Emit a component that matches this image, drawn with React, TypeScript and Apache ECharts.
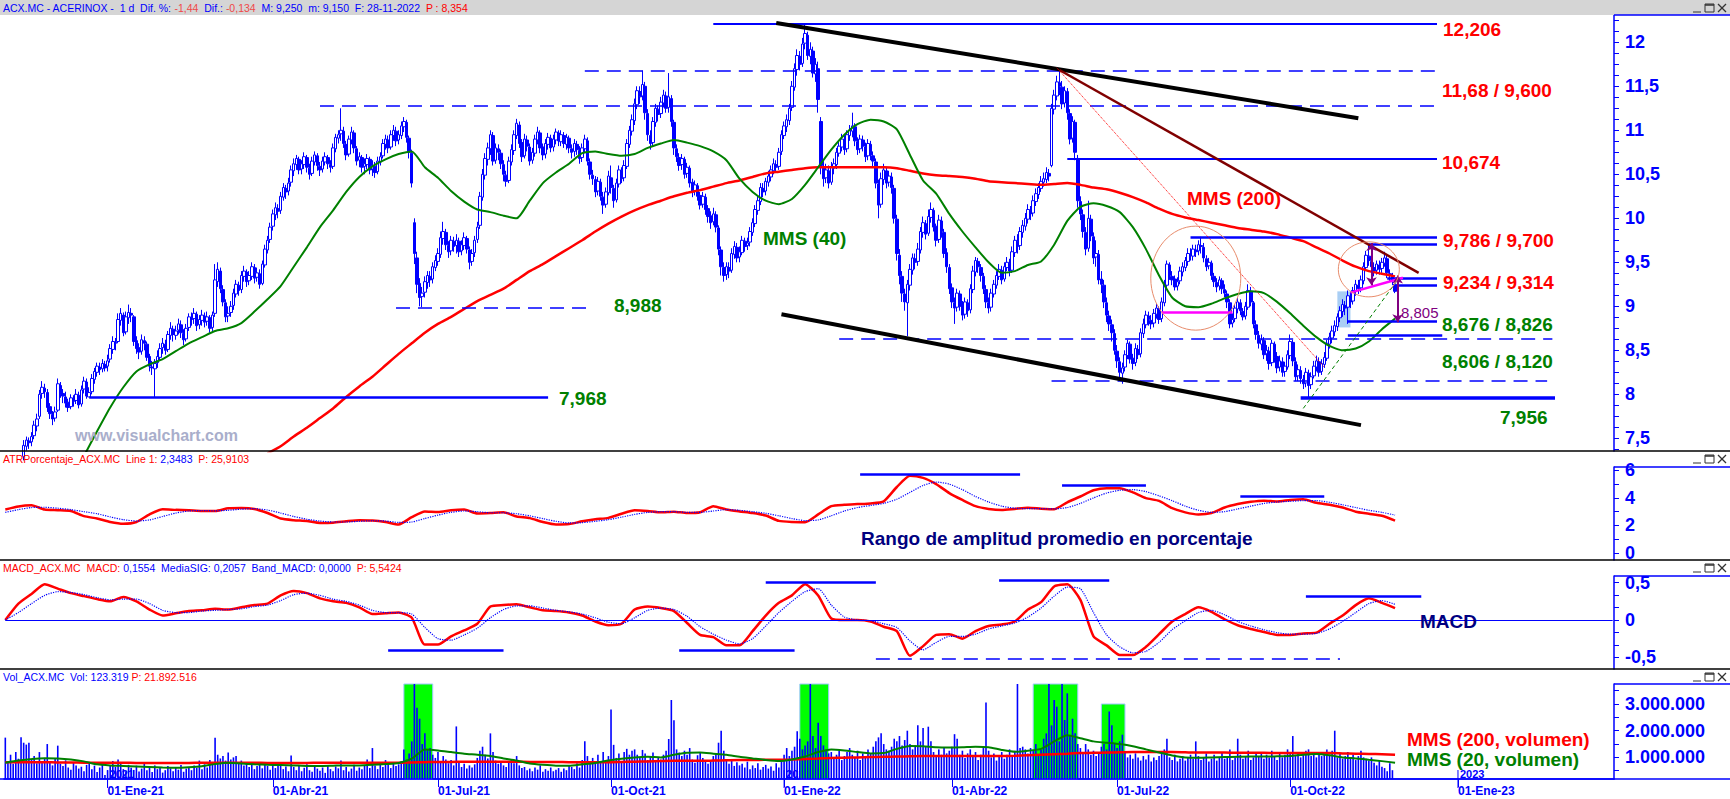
import React, { useEffect, useRef } from 'react';
import * as echarts from 'echarts';

const BLUE = '#0000ff';
const RED = '#ff0000';
const GREEN = '#008000';
const NAVY = '#000080';
const PURPLE = '#800080';
const MAGENTA = '#ff00ff';
const BROWN = '#800000';
const FONT = "'Liberation Sans', Arial, sans-serif";

const START_DATE = '2020-11-06';
const SLOT_COUNT = 614;
const HOLIDAYS = ['2020-12-25', '2021-01-01', '2021-04-02', '2021-04-05', '2022-04-15', '2022-04-18', '2022-12-26'];
const MONTHS_ES = ['Ene', 'Feb', 'Mar', 'Abr', 'May', 'Jun', 'Jul', 'Ago', 'Sep', 'Oct', 'Nov', 'Dic'];

// daily candles, in euro cents: [open, close, low, high]
const PRICE_OHLC = [
  [695,690,682,702],[712,715,705,728],[716,712,706,722],[711,720,708,726],[719,708,704,724],
  [709,716,703,720],[717,728,712,732],[729,742,725,748],[741,748,736,752],[747,745,738,751],
  [746,752,741,757],[753,765,749,770],[764,772,758,778],[775,800,772,805],[801,808,795,815],
  [807,803,796,812],[802,785,780,806],[786,778,772,790],[777,772,765,781],[773,780,769,786],
  [782,812,780,818],[810,800,796,814],[801,798,790,806],[797,790,785,803],[791,785,780,795],
  [786,796,783,800],[795,792,786,799],[793,800,789,806],[799,788,784,803],[789,805,786,810],
  [806,815,801,820],[814,798,795,818],[797,802,797,808],[803,818,800,823],[817,826,812,830],
  [825,832,820,836],[831,828,822,836],[829,835,825,840],[834,830,826,838],[832,838,826,845],
  [840,852,836,857],[851,860,846,866],[859,858,850,864],[860,885,858,892],[884,892,878,898],
  [890,870,866,893],[871,888,868,894],[887,893,880,902],[892,890,882,898],[888,860,855,890],
  [861,852,846,866],[853,848,840,858],[849,862,845,868],[861,858,850,866],[857,842,838,860],
  [843,832,826,846],[831,830,822,838],[829,835,797,840],[836,843,830,850],[842,852,838,858],
  [853,858,846,864],[857,850,845,862],[851,868,848,872],[867,875,862,882],[874,868,860,878],
  [867,872,862,878],[873,880,868,886],[879,870,864,884],[869,862,856,874],[863,875,860,880],
  [876,888,872,892],[887,885,878,893],[886,892,880,898],[891,878,872,894],[879,885,874,890],
  [884,890,878,896],[889,882,876,893],[883,888,878,894],[887,875,870,890],[876,890,872,894],
  [892,930,888,948],[928,942,922,950],[940,920,915,944],[919,905,900,924],[904,888,882,908],
  [889,892,882,900],[893,900,888,906],[901,915,896,920],[914,925,910,930],[924,918,912,928],
  [919,935,915,940],[934,940,928,946],[939,928,922,942],[929,935,924,940],[934,945,930,950],
  [944,932,926,948],[933,938,928,944],[937,925,920,942],[926,948,924,952],[947,965,944,970],
  [964,975,960,980],[976,990,972,995],[991,1005,986,1010],[1004,1012,998,1018],[1011,1008,1000,1016],
  [1009,1025,1005,1030],[1024,1035,1020,1040],[1034,1030,1022,1038],[1031,1040,1026,1046],[1041,1055,1036,1060],
  [1054,1062,1048,1068],[1061,1068,1055,1072],[1067,1055,1050,1070],[1056,1062,1050,1066],[1061,1070,1056,1075],
  [1069,1058,1052,1072],[1057,1050,1044,1062],[1051,1065,1048,1070],[1064,1072,1060,1076],[1071,1060,1054,1074],
  [1059,1055,1048,1064],[1056,1065,1052,1070],[1064,1070,1060,1075],[1069,1062,1056,1072],[1061,1058,1052,1066],
  [1059,1080,1056,1085],[1079,1092,1075,1096],[1091,1095,1085,1100],[1096,1100,1088,1125],[1099,1085,1080,1104],
  [1084,1072,1066,1088],[1073,1090,1070,1094],[1089,1098,1084,1104],[1097,1080,1074,1100],[1079,1065,1060,1082],
  [1066,1070,1058,1075],[1069,1058,1052,1072],[1059,1062,1050,1068],[1061,1068,1056,1073],[1067,1055,1050,1070],
  [1056,1060,1048,1066],[1059,1052,1046,1064],[1053,1065,1050,1070],[1064,1070,1060,1075],[1071,1085,1068,1090],
  [1084,1090,1078,1095],[1089,1080,1074,1094],[1081,1095,1078,1100],[1094,1100,1088,1106],[1099,1088,1082,1104],
  [1089,1095,1084,1100],[1094,1105,1090,1110],[1104,1110,1098,1115],[1109,1092,1086,1112],[1091,1075,1068,1094],
  [1074,1040,1035,1078],[995,960,948,1000],[955,925,915,962],[926,910,900,932],[911,915,899,922],
  [916,928,910,934],[927,935,920,940],[934,930,922,940],[931,945,926,950],[944,952,940,958],
  [951,960,946,966],[959,978,955,985],[977,985,970,996],[984,970,964,988],[969,962,955,974],
  [963,975,958,980],[974,968,962,979],[969,975,960,982],[974,962,956,978],[963,970,958,975],
  [969,978,964,984],[977,965,960,980],[964,950,942,968],[951,960,946,965],[961,975,956,980],
  [976,990,972,996],[992,1025,988,1030],[1024,1050,1020,1056],[1049,1068,1044,1074],[1067,1080,1060,1086],
  [1079,1095,1072,1100],[1094,1065,1060,1098],[1066,1080,1062,1085],[1079,1075,1066,1084],[1074,1062,1056,1078],
  [1061,1050,1042,1066],[1049,1042,1036,1054],[1043,1065,1040,1070],[1064,1078,1060,1084],[1077,1095,1072,1100],
  [1094,1108,1090,1113],[1106,1085,1080,1110],[1086,1070,1064,1090],[1071,1090,1068,1096],[1089,1082,1076,1094],
  [1081,1065,1060,1085],[1066,1075,1062,1080],[1074,1090,1070,1095],[1089,1098,1084,1104],[1097,1080,1074,1100],
  [1081,1072,1066,1085],[1073,1085,1068,1090],[1084,1092,1078,1097],[1091,1080,1075,1095],[1081,1090,1076,1095],
  [1089,1098,1084,1102],[1097,1088,1082,1100],[1087,1095,1082,1100],[1094,1085,1080,1098],[1084,1092,1078,1096],
  [1091,1080,1074,1094],[1079,1075,1068,1084],[1076,1085,1070,1090],[1084,1078,1072,1088],[1077,1068,1062,1082],
  [1069,1080,1064,1085],[1079,1090,1074,1095],[1088,1065,1060,1092],[1064,1050,1044,1068],[1049,1045,1038,1055],
  [1044,1030,1024,1048],[1031,1042,1026,1047],[1041,1025,1020,1045],[1024,1015,1005,1030],[1016,1030,1012,1035],
  [1029,1048,1026,1054],[1046,1035,1028,1060],[1034,1020,1012,1038],[1021,1040,1018,1045],[1039,1055,1035,1060],
  [1054,1045,1040,1058],[1046,1060,1042,1066],[1059,1085,1056,1090],[1084,1100,1080,1105],[1099,1112,1094,1118],
  [1111,1130,1106,1136],[1129,1145,1124,1150],[1144,1138,1130,1150],[1139,1152,1134,1168],[1150,1120,1112,1155],
  [1119,1095,1088,1124],[1094,1085,1078,1100],[1086,1110,1082,1115],[1109,1125,1104,1130],[1124,1118,1110,1128],
  [1119,1132,1114,1138],[1131,1140,1126,1146],[1139,1125,1120,1144],[1126,1138,1120,1165],[1136,1110,1104,1140],
  [1109,1080,1072,1112],[1079,1070,1064,1084],[1069,1060,1054,1074],[1061,1068,1055,1073],[1067,1050,1045,1070],
  [1051,1058,1046,1063],[1057,1040,1035,1060],[1041,1030,1024,1045],[1031,1038,1026,1043],[1037,1025,1020,1040],
  [1026,1015,1010,1030],[1016,1025,1012,1030],[1024,1010,1004,1028],[1011,1002,995,1015],[1003,995,988,1008],
  [996,1005,992,1012],[1004,990,984,1008],[989,965,958,992],[964,945,935,968],[944,935,928,950],
  [936,945,930,950],[944,940,932,950],[941,960,938,966],[959,968,954,974],[967,955,950,972],
  [956,962,950,968],[961,975,958,980],[974,968,962,978],[969,972,964,978],[973,985,968,990],
  [984,995,980,1000],[994,1010,990,1015],[1009,1020,1004,1026],[1019,1035,1015,1040],[1034,1030,1024,1040],
  [1031,1042,1026,1046],[1041,1048,1036,1054],[1047,1055,1042,1060],[1054,1062,1050,1068],[1061,1058,1052,1066],
  [1059,1075,1055,1080],[1076,1095,1072,1100],[1094,1105,1090,1110],[1104,1112,1098,1118],[1111,1125,1106,1130],
  [1126,1150,1122,1156],[1149,1170,1145,1176],[1169,1185,1162,1192],[1184,1175,1168,1190],[1176,1198,1172,1205],
  [1199,1210,1192,1221],[1208,1185,1180,1212],[1184,1192,1175,1200],[1190,1165,1160,1195],[1164,1175,1155,1182],
  [1170,1135,1120,1178],[1110,1060,1050,1115],[1058,1045,1036,1065],[1046,1055,1040,1062],[1054,1040,1034,1060],
  [1041,1058,1038,1064],[1057,1062,1050,1068],[1061,1075,1056,1080],[1074,1082,1070,1088],[1081,1090,1076,1096],
  [1089,1078,1072,1094],[1079,1095,1075,1100],[1094,1100,1088,1106],[1099,1105,1092,1120],[1104,1088,1082,1108],
  [1087,1078,1072,1092],[1079,1090,1074,1095],[1089,1082,1076,1094],[1081,1070,1064,1086],[1071,1085,1066,1090],
  [1084,1072,1066,1088],[1071,1065,1058,1076],[1064,1040,1034,1068],[1039,1015,1000,1044],[1016,1045,1012,1052],
  [1044,1055,1038,1062],[1054,1040,1034,1058],[1041,1048,1036,1054],[1047,1035,1028,1052],[1034,1000,994,1038],
  [999,960,952,1004],[958,935,925,965],[934,915,905,940],[914,905,895,920],[904,925,866,930],
  [924,942,918,948],[941,955,936,960],[954,950,942,960],[951,965,946,972],[964,985,960,990],
  [984,995,978,1002],[994,982,976,998],[983,1002,980,1010],[1001,1010,995,1018],[1009,990,985,1012],
  [991,975,968,994],[976,998,972,1004],[997,985,978,1002],[984,960,955,988],[961,945,938,966],
  [944,920,914,948],[921,905,898,926],[904,898,880,910],[899,915,894,920],[914,900,895,918],
  [901,890,884,906],[891,905,886,910],[904,895,888,908],[896,920,892,925],[919,940,915,946],
  [939,952,934,956],[951,945,938,955],[944,935,928,948],[934,920,914,938],[919,905,898,924],
  [904,898,892,910],[899,915,894,920],[914,925,910,930],[924,935,920,940],[934,942,930,948],
  [941,930,925,946],[931,945,928,950],[944,950,940,956],[949,940,934,954],[941,962,938,968],
  [961,975,956,980],[974,968,960,982],[969,985,964,990],[984,992,978,998],[991,1000,986,1006],
  [999,1010,994,1016],[1009,1005,998,1014],[1006,1020,1002,1026],[1019,1028,1014,1034],[1027,1035,1022,1040],
  [1034,1042,1030,1048],[1041,1045,1036,1052],[1044,1052,1040,1058],[1051,1048,1042,1056],[1060,1125,1058,1130],
  [1124,1140,1118,1146],[1139,1155,1134,1162],[1154,1150,1140,1168],[1149,1130,1124,1156],[1131,1145,1126,1150],
  [1144,1120,1112,1148],[1119,1090,1084,1124],[1091,1110,1086,1116],[1109,1075,1066,1112],[1068,1020,1012,1072],
  [1019,1005,998,1025],[1004,985,978,1010],[984,965,958,990],[966,1000,962,1020],[999,980,974,1004],
  [979,955,948,984],[956,960,945,975],[959,930,925,964],[931,925,915,940],[924,905,898,930],
  [904,890,882,910],[889,880,872,895],[879,870,860,885],[869,850,845,874],[849,838,830,856],
  [837,825,818,842],[824,830,812,836],[831,845,826,850],[844,858,840,862],[857,840,835,860],
  [841,835,828,846],[836,852,832,858],[851,845,840,856],[846,870,842,875],[869,880,864,886],
  [879,890,875,895],[889,885,878,894],[884,880,874,890],[881,892,876,897],[891,898,886,903],
  [897,885,880,900],[886,905,882,910],[904,925,900,930],[924,948,920,952],[947,935,930,950],
  [934,930,924,940],[931,922,918,935],[923,928,918,933],[929,940,925,945],[939,945,934,950],
  [944,952,940,956],[951,960,946,966],[959,958,952,966],[957,965,952,970],[964,962,956,970],
  [963,970,958,975],[969,968,960,979],[967,955,950,972],[954,945,940,958],[946,950,942,955],
  [949,935,930,952],[934,928,922,938],[927,922,916,932],[923,930,918,934],[929,920,914,932],
  [919,915,910,925],[914,905,898,918],[904,880,875,908],[881,885,876,892],[886,898,882,902],
  [897,905,892,910],[904,895,890,908],[894,888,884,898],[889,900,885,905],[899,918,896,925],
  [917,905,900,922],[904,880,875,906],[879,868,862,884],[867,858,852,872],[857,862,850,868],
  [861,845,840,865],[846,850,838,856],[849,835,828,854],[836,858,832,862],[857,842,836,860],
  [843,830,824,848],[831,838,826,844],[837,825,820,842],[826,832,820,837],[831,845,828,850],
  [844,860,840,868],[859,838,832,862],[837,820,815,842],[821,828,815,834],[827,818,812,832],
  [817,812,806,822],[813,825,808,830],[824,810,796,828],[811,820,806,825],[821,832,818,838],
  [831,838,826,844],[837,825,820,842],[826,835,822,840],[834,842,830,848],[841,858,838,862],
  [857,865,852,870],[864,872,858,878],[871,878,866,884],[877,888,872,892],[887,895,882,900],
  [894,902,888,908],[901,898,890,906],[899,912,880,918],[911,905,898,916],[906,918,902,922],
  [917,925,912,930],[924,920,914,930],[921,930,916,935],[929,945,925,950],[944,958,940,963],
  [957,952,946,970],[951,945,940,958],[944,940,934,950],[941,948,936,952],[947,942,936,952],
  [943,950,938,955],[949,955,945,962],[954,938,932,958],[937,935,928,942],[934,930,924,938],
  [925,917,915,925]
];

// daily volume, thousands of shares
const VOLUME_K = [
  1740,820,1100,760,1200,950,1750,1550,1480,1550, 900,1050,780,1200,860,980,1500,820,700,950,
  1440,760,680,890,620,540,810,700,580,650, 480,720,820,560,690,450,620,780,340,520,
  700,860,640,920,750,560,480,720,610,530, 690,470,580,800,520,640,450,700,560,610,
  430,520,680,590,480,620,540,710,460,580, 640,520,700,610,880,560,740,620,900,780,
  1740,1100,960,1050,880,1180,920,1000,1050,760, 880,700,760,640,820,560,680,720,590,800,
  680,540,740,600,820,700,560,660,480,1070, 640,520,700,480,610,740,520,460,680,580,
  500,620,420,700,560,480,660,590,880,520, 640,470,580,720,500,620,560,680,920,600,
  1350,700,560,780,640,900,720,600,820,680, 740,860,1300,920,1150,1600,4200,2860,2450,1500,
  1900,1300,1350,1100,980,1200,860,1050,920,780, 900,700,2160,820,640,760,580,700,620,740,
  980,1250,1400,1100,960,1900,1200,880,760,820, 700,640,860,920,780,1050,700,600,640,520,
  580,480,620,540,700,460,560,500,620,480, 540,600,460,580,520,700,640,560,780,620,
  900,1600,1050,860,980,760,1100,820,1200,900, 1050,2790,1470,980,1150,860,1200,1320,1100,1250,
  1300,1100,980,1280,1150,900,1050,1180,860,1000, 920,1100,1250,1690,3150,2390,1300,1180,1050,1250,
  1100,1350,920,800,1080,1200,980,860,760,900, 1050,1150,1550,2000,1250,880,760,920,680,820,
  700,760,620,840,560,700,600,780,540,640, 720,580,660,500,780,620,900,1100,1350,1050,
  1250,1400,1980,1700,1300,1450,1600,4000,1800,1350, 2300,1800,1450,1300,1150,1200,980,1100,1250,900,
  1050,1200,1350,1100,1000,1250,900,1150,1050,1300, 1150,1400,1600,1750,1900,1500,1300,1250,1400,1700,
  1600,1800,1450,1650,2000,1500,1300,1450,2200,1600, 2100,1400,2150,1600,1200,1050,1300,1100,1350,1150,
  1250,1400,1870,1700,1100,1250,980,1150,1300,1050, 1200,900,1100,1350,3060,1250,1000,1150,880,1050,
  1200,950,1100,1300,1050,1250,3800,1350,1400,1300, 1150,1350,1250,1500,1100,1300,1700,1900,3900,2200,
  3150,2900,1600,3900,2400,3400,1800,2450,1900,1500, 1350,1200,1500,1300,1100,1250,1050,1200,1400,1500,
  1300,2720,2200,1500,1350,1600,1850,1200,1000,1100, 950,1150,1000,880,1050,920,1100,850,1000,900,
  1050,1150,1300,1700,1000,900,1100,850,950,1050, 880,1000,1100,950,1600,1050,900,1000,1150,850,
  950,1100,880,1000,1200,950,1050,1300,900,1000, 1700,1100,950,1050,1250,900,1000,1150,1050,1200,
  950,1100,1000,1250,1050,900,1150,1000,1100,1300, 1150,1800,1050,1200,1000,1100,1250,1300,1050,1150,
  1000,1200,1050,1150,1300,1100,1250,2000,1000,1150, 950,1050,1200,1000,1100,900,1050,1250,1000,950,
  880,1000,800,700,900,650,600,480,780,520, 123
];

// indicator curves read every STEP trading days
const STEP = 5;
const MA40_START = 30;
const MA40 = [
  7.3,7.58,7.85,8.08,8.26,8.34,8.4,8.49,8.58,8.65, 8.72,8.75,8.81,8.94,9.08,9.23,9.45,9.67,9.9,10.09,
  10.3,10.47,10.59,10.67,10.73,10.76,10.58,10.46,10.31,10.19, 10.1,10.07,10.03,10.0,10.2,10.4,10.52,10.62,10.74,10.76,
  10.73,10.71,10.73,10.8,10.85,10.89,10.86,10.82,10.76,10.66, 10.45,10.3,10.2,10.16,10.22,10.38,10.58,10.78,10.95,11.07,
  11.12,11.1,11.01,10.72,10.43,10.28,10.05,9.85,9.67,9.5, 9.38,9.4,9.47,9.51,9.7,9.97,10.13,10.17,10.14,10.07,
  9.9,9.65,9.35,9.1,9.0,8.99,9.03,9.09,9.14,9.17, 9.15,9.05,8.92,8.78,8.65,8.55,8.5,8.52,8.6,8.74, 8.86
];
const MA200_START = 100;
const MA200 = [
  7.33,7.41,7.52,7.62,7.73,7.84,7.97,8.09,8.2,8.33, 8.46,8.58,8.7,8.8,8.88,8.97,9.06,9.13,9.2,9.3,
  9.4,9.48,9.57,9.66,9.75,9.85,9.94,10.02,10.09,10.15, 10.2,10.25,10.29,10.32,10.36,10.4,10.43,10.47,10.51,10.53,
  10.55,10.57,10.58,10.58,10.58,10.58,10.58,10.58,10.57,10.54, 10.51,10.49,10.48,10.47,10.45,10.42,10.41,10.4,10.39,10.38,
  10.39,10.4,10.38,10.35,10.33,10.29,10.24,10.18,10.11,10.05, 10.01,9.98,9.95,9.92,9.89,9.87,9.85,9.82,9.78,9.74,
  9.67,9.6,9.52,9.45,9.4,9.37,9.34
];
const ATR_LINE = [
  3.16,3.38,3.46,3.15,3.11,3.05,2.68,2.5,2.25,2.12, 2.25,2.8,3.17,3.13,3.1,3.05,3.05,3.24,3.27,3.2,
  2.9,2.5,2.38,2.32,2.18,2.2,2.3,2.38,2.36,2.25, 2.07,2.6,3.02,2.98,3.1,3.15,2.87,2.9,2.95,2.65,
  2.53,2.25,2.07,2.1,2.3,2.45,2.55,2.85,3.1,3.05, 2.95,3.0,2.9,2.96,3.4,3.16,3.02,2.9,2.72,2.33,
  2.25,2.24,2.8,3.4,3.5,3.55,3.6,3.75,4.79,5.6, 5.45,5.0,4.35,3.85,3.4,3.2,3.12,3.2,3.28,3.22,
  3.18,3.68,4.1,4.55,4.7,4.7,4.4,3.98,3.78,3.25, 2.95,2.8,2.9,3.3,3.55,3.72,3.8,3.74,3.85,3.9,
  3.64,3.5,3.3,3.0,2.85,2.7,2.35
];
const ATR_SIGNAL = [
  2.95,3.15,3.3,3.32,3.25,3.15,3.0,2.85,2.62,2.42, 2.32,2.4,2.65,2.9,3.05,3.08,3.06,3.1,3.18,3.22,
  3.12,2.9,2.65,2.45,2.32,2.25,2.25,2.3,2.34,2.32, 2.22,2.25,2.5,2.75,2.95,3.05,3.0,2.92,2.92,2.85,
  2.7,2.5,2.3,2.18,2.2,2.3,2.42,2.6,2.8,2.95, 3.0,3.0,2.95,2.95,3.05,3.15,3.1,3.0,2.88,2.7,
  2.5,2.35,2.4,2.7,3.05,3.3,3.45,3.6,3.9,4.4, 4.9,5.15,5.0,4.6,4.1,3.7,3.4,3.25,3.22,3.22,
  3.2,3.3,3.6,4.0,4.35,4.55,4.6,4.45,4.15,3.8, 3.4,3.1,2.95,3.0,3.2,3.4,3.6,3.7,3.75,3.8,
  3.8,3.68,3.5,3.3,3.1,2.95,2.75
];
const MACD_LINE = [
  0.0,0.22,0.35,0.48,0.42,0.36,0.32,0.28,0.25,0.31, 0.25,0.14,0.06,0.09,0.12,0.13,0.15,0.14,0.17,0.2,
  0.22,0.33,0.39,0.36,0.29,0.25,0.23,0.17,0.08,0.09, 0.1,0.03,-0.33,-0.33,-0.22,-0.14,-0.05,0.18,0.2,0.21,
  0.17,0.13,0.12,0.1,0.06,-0.02,-0.07,-0.05,0.14,0.18, 0.16,0.12,-0.04,-0.2,-0.23,-0.34,-0.34,-0.15,0.06,0.23,
  0.33,0.48,0.33,0.02,0.0,0.0,-0.02,-0.09,-0.15,-0.48, -0.35,-0.2,-0.19,-0.25,-0.15,-0.08,-0.06,-0.02,0.14,0.24,
  0.45,0.48,0.27,-0.22,-0.34,-0.47,-0.47,-0.36,-0.19,-0.02, 0.08,0.17,0.11,0.01,-0.07,-0.12,-0.16,-0.2,-0.2,-0.18,
  -0.17,-0.05,0.06,0.2,0.29,0.23,0.16
];
const MACD_SIGNAL = [
  0.0,0.1,0.22,0.33,0.38,0.37,0.34,0.3,0.27,0.28, 0.28,0.22,0.13,0.1,0.1,0.12,0.13,0.14,0.15,0.18,
  0.2,0.26,0.34,0.36,0.33,0.28,0.25,0.2,0.13,0.1, 0.1,0.08,-0.1,-0.25,-0.27,-0.2,-0.11,0.03,0.14,0.19,
  0.19,0.16,0.13,0.11,0.08,0.03,-0.03,-0.05,0.03,0.13, 0.16,0.14,0.05,-0.09,-0.19,-0.27,-0.32,-0.25,-0.08,0.1,
  0.25,0.38,0.42,0.2,0.04,0.0,-0.01,-0.05,-0.1,-0.28, -0.4,-0.3,-0.22,-0.22,-0.19,-0.12,-0.08,-0.04,0.04,0.16,
  0.32,0.44,0.42,0.1,-0.2,-0.36,-0.44,-0.42,-0.3,-0.13, -0.01,0.1,0.13,0.07,-0.02,-0.08,-0.13,-0.17,-0.19,-0.19,
  -0.18,-0.12,-0.02,0.1,0.22,0.26,0.21
];
// volume averages, millions
const VOL_MA20 = [
  0.8,0.88,0.94,0.97,0.96,0.92,0.85,0.74,0.7,0.68, 0.66,0.64,0.62,0.61,0.63,0.67,0.75,0.8,0.77,0.74,
  0.72,0.71,0.7,0.68,0.68,0.69,0.7,0.7,0.72,0.75, 0.79,0.95,1.3,1.26,1.2,1.14,1.1,1.05,0.96,0.88,
  0.77,0.72,0.69,0.69,0.74,0.79,0.88,0.95,1.0,1.02, 1.0,1.1,1.17,1.18,1.14,1.1,1.02,0.96,0.9,0.86,
  0.92,1.03,1.2,1.3,1.26,1.2,1.15,1.16,1.32,1.43, 1.42,1.38,1.37,1.38,1.4,1.38,1.28,1.21,1.25,1.32,
  1.6,1.83,1.72,1.6,1.55,1.5,1.42,1.3,1.18,1.07, 1.0,0.99,1.0,1.01,1.02,1.03,1.03,1.04,1.05,1.1,
  1.13,1.08,1.0,0.96,0.91,0.86,0.8
];
const VOL_MA200 = [
  0.82,0.82,0.82,0.82,0.81,0.81,0.8,0.8,0.8,0.8, 0.79,0.79,0.79,0.79,0.79,0.8,0.8,0.8,0.8,0.8,
  0.79,0.79,0.79,0.79,0.8,0.8,0.8,0.8,0.8,0.8, 0.8,0.81,0.82,0.83,0.83,0.84,0.84,0.84,0.84,0.84,
  0.83,0.83,0.83,0.82,0.82,0.82,0.82,0.83,0.84,0.85, 0.86,0.87,0.87,0.87,0.88,0.89,0.9,0.9,0.91,0.91,
  0.92,0.94,0.96,0.98,0.99,1.0,1.01,1.02,1.03,1.04, 1.05,1.05,1.05,1.05,1.05,1.05,1.05,1.06,1.08,1.1,
  1.12,1.14,1.16,1.17,1.18,1.19,1.2,1.2,1.2,1.2, 1.19,1.18,1.18,1.18,1.17,1.17,1.17,1.16,1.16,1.16,
  1.16,1.16,1.15,1.14,1.13,1.12,1.1
];

// axis tick labels
const PRICE_LABELS = [7.5, 8, 8.5, 9, 9.5, 10, 10.5, 11, 11.5, 12];
const ATR_LABELS = [0, 2, 4, 6];
const MACD_LABELS = [-0.5, 0, 0.5];
const VOL_LABELS = [1000000, 2000000, 3000000];

// annotations (trading-day index, price)
const PRICE_LEVELS = [
  { v: 12.206, from: 270, to: 546, dash: false, w: 2 },
  { v: 11.68, from: 221, to: 547, dash: true, w: 1.5 },
  { v: 11.28, from: 120, to: 547, dash: true, w: 1.5 },
  { v: 10.674, from: 405, to: 546, dash: false, w: 2 },
  { v: 9.786, from: 452, to: 546, dash: false, w: 2.5 },
  { v: 9.7, from: 520, to: 546, dash: false, w: 2.5 },
  { v: 9.314, from: 527, to: 546, dash: false, w: 2.5 },
  { v: 9.234, from: 531, to: 546, dash: false, w: 2.5 },
  { v: 8.826, from: 512, to: 546, dash: false, w: 2.5 },
  { v: 8.676, from: 512, to: 548, dash: false, w: 2.5 },
  { v: 8.63, from: 318, to: 590, dash: true, w: 1.5 },
  { v: 8.15, from: 399, to: 588, dash: true, w: 1.5 },
  { v: 7.956, from: 494, to: 591, dash: false, w: 3.5 },
  { v: 7.968, from: 32, to: 207, dash: false, w: 2.5 },
  { v: 8.988, from: 149, to: 224, dash: true, w: 1.5 },
];
const TRENDS = [
  { a: [294, 12.22], b: [516, 11.137], color: '#000000', w: 4, type: 'solid' },
  { a: [296, 8.91], b: [517, 7.65], color: '#000000', w: 4, type: 'solid' },
  { a: [402, 11.685], b: [539, 9.38], color: BROWN, w: 2.5, type: 'solid' },
  { a: [401, 11.71], b: [503, 8.31], color: RED, w: 1, type: 'dotted' },
  { a: [495, 7.84], b: [531, 9.3], color: GREEN, w: 1, type: [4, 3] },
  { a: [441, 8.93], b: [468, 8.93], color: MAGENTA, w: 2.5, type: 'solid' },
  { a: [513, 9.155], b: [533, 9.325], color: MAGENTA, w: 2.5, type: 'solid' },
];
const ARROWS = [
  { i: 521, from: 9.72, to: 9.24 },
  { i: 531, from: 9.35, to: 8.82 },
];
const CIRCLES = [
  { i: 454, p: 9.32, rx: 45, ry: 52 },
  { i: 520, p: 9.42, rx: 30.5, ry: 27.5 },
];
const ATR_LEVELS = [
  { v: 5.73, from: 326, to: 387 },
  { v: 4.94, from: 403, to: 435 },
  { v: 4.14, from: 471, to: 503 },
];
const MACD_LEVELS = [
  { v: -0.41, from: 146, to: 190, dash: false },
  { v: -0.41, from: 257, to: 301, dash: false },
  { v: 0.5, from: 290, to: 332, dash: false },
  { v: 0.527, from: 379, to: 421, dash: false },
  { v: 0.312, from: 496, to: 540, dash: false },
  { v: -0.516, from: 332, to: 509, dash: true },
];
const VOL_AREAS = [
  { from: 152, to: 163, top: 3750000 },
  { from: 303, to: 314, top: 3750000 },
  { from: 392, to: 409, top: 3750000 },
  { from: 418, to: 427, top: 3000000 },
];
const PRICE_BOX = { from: 508, to: 513, top: 9.17, bottom: 8.76 };

const TEXT_LABELS = [
  { text: '12,206', color: RED, x: 1443, y: 29, size: 19, bold: true },
  { text: '11,68 / 9,600', color: RED, x: 1442, y: 90, size: 19, bold: true },
  { text: '10,674', color: RED, x: 1442, y: 162, size: 19, bold: true },
  { text: '9,786 / 9,700', color: RED, x: 1443, y: 240, size: 19, bold: true },
  { text: '9,234 / 9,314', color: RED, x: 1443, y: 282, size: 19, bold: true },
  { text: '8,676 / 8,826', color: GREEN, x: 1442, y: 324, size: 19, bold: true },
  { text: '8,606 / 8,120', color: GREEN, x: 1442, y: 361, size: 19, bold: true },
  { text: '7,956', color: GREEN, x: 1500, y: 417, size: 19, bold: true },
  { text: '8,805', color: PURPLE, x: 1401, y: 312, size: 15, bold: false },
  { text: '8,988', color: GREEN, x: 614, y: 305, size: 19, bold: true },
  { text: '7,968', color: GREEN, x: 559, y: 398, size: 19, bold: true },
  { text: 'MMS (40)', color: GREEN, x: 763, y: 238, size: 19, bold: true },
  { text: 'MMS (200)', color: RED, x: 1187, y: 198, size: 19, bold: true },
  { text: 'Rango de amplitud promedio en porcentaje', color: NAVY, x: 861, y: 538, size: 19, bold: true },
  { text: 'MACD', color: NAVY, x: 1420, y: 621, size: 19, bold: true },
  { text: 'MMS (200, volumen)', color: RED, x: 1407, y: 739, size: 19, bold: true },
  { text: 'MMS (20, volumen)', color: GREEN, x: 1407, y: 759, size: 19, bold: true },
  { text: 'www.visualchart.com', color: '#a9aecb', x: 75, y: 435, size: 16, bold: true },
];

function buildDates(): string[] {
  const out: string[] = [];
  const d = new Date(START_DATE + 'T12:00:00Z');
  while (out.length < SLOT_COUNT) {
    const wd = d.getUTCDay();
    const s = d.toISOString().slice(0, 10);
    if (wd !== 0 && wd !== 6 && HOLIDAYS.indexOf(s) < 0) out.push(s);
    d.setUTCDate(d.getUTCDate() + 1);
  }
  return out;
}

const DATES = buildDates();
const TICK_SET = new Set<number>();
const YEAR_IDX: number[] = [];
const LABEL_MAP: Record<string, string> = {};
DATES.forEach((s, i) => {
  const m = parseInt(s.slice(5, 7), 10) - 1;
  const prevM = i > 0 ? parseInt(DATES[i - 1].slice(5, 7), 10) - 1 : -1;
  if (m !== prevM && m % 3 === 0 && i > 0) {
    TICK_SET.add(i);
    LABEL_MAP[s] = '01-' + MONTHS_ES[m] + '-' + s.slice(2, 4);
    if (m === 0) YEAR_IDX.push(i);
  }
});

const sampled = (arr: number[], start: number, mult = 1) => arr.map((v, k) => [start + k * STEP, v * mult]);
const comma = (v: number) => String(v).replace('.', ',');
const thousands = (v: number) => String(v).replace(/\B(?=(\d{3})+(?!\d))/g, '.');

function range(a: number, b: number, s: number) {
  const out: number[] = [];
  for (let v = a; v <= b + 1e-9; v += s) out.push(Math.round(v * 10000) / 10000);
  return out;
}

function yAxis(k: number, min: number, max: number, ticks: number[], labels: number[], fmt: (v: number) => string) {
  return {
    type: 'value', gridIndex: k, position: 'right', min, max,
    axisLine: { show: true, onZero: false, lineStyle: { color: BLUE, width: 1.5 } },
    axisTick: { show: true, customValues: ticks, length: 5, lineStyle: { color: BLUE, width: 1 } },
    axisLabel: {
      show: true, customValues: labels, formatter: fmt, color: BLUE, fontWeight: 'bold',
      fontSize: 18, fontFamily: FONT, margin: 11,
    },
    splitLine: { show: false },
  };
}

function seg(a: number[], b: number[], color: string, w: number, type: any) {
  return [
    { coord: a, lineStyle: { color, width: w, type } },
    { coord: b, lineStyle: { color, width: w, type } },
  ];
}

function buildOption() {
  const grids = [
    { left: 4, right: 116, top: 15, height: 436 },
    { left: 4, right: 116, top: 467, height: 93 },
    { left: 4, right: 116, top: 576, height: 93 },
    { left: 4, right: 116, top: 684, height: 95 },
  ];
  const xAxes = grids.map((_, k) => ({
    type: 'category', gridIndex: k, data: DATES, boundaryGap: true,
    axisLine: { show: k === 3, onZero: false, lineStyle: { color: BLUE, width: 1.5 } },
    axisTick: {
      show: k === 3, alignWithLabel: true, length: 8, lineStyle: { color: BLUE },
      interval: (i: number) => TICK_SET.has(i),
    },
    axisLabel: {
      show: k === 3, interval: (i: number) => TICK_SET.has(i),
      formatter: (v: string) => LABEL_MAP[v] || '',
      color: BLUE, fontWeight: 'bold', fontSize: 12, fontFamily: FONT, align: 'left', margin: 6,
    },
    splitLine: { show: false },
  }));
  const yAxes = [
    yAxis(0, 7.356, 12.31, range(7.375, 12.25, 0.125), PRICE_LABELS, comma),
    yAxis(1, -0.506, 6.24, range(0, 6, 1), ATR_LABELS, comma),
    yAxis(2, -0.657, 0.59, [-0.5, -1 / 3, -1 / 6, 0, 1 / 6, 1 / 3, 0.5], MACD_LABELS, comma),
    yAxis(3, 190000, 3750000, range(500000, 3500000, 500000), VOL_LABELS, thousands),
  ];

  const candles = PRICE_OHLC.map((r) => [r[0] / 100, r[1] / 100, r[2] / 100, r[3] / 100]);
  const priceLines: any[] = [];
  PRICE_LEVELS.forEach((l) => priceLines.push(seg([l.from, l.v], [l.to, l.v], BLUE, l.w, l.dash ? [14, 8] : 'solid')));
  TRENDS.forEach((t) => priceLines.push(seg(t.a, t.b, t.color, t.w, t.type)));
  const arrowLines = ARROWS.map((a) => seg([a.i, a.from], [a.i, a.to], PURPLE, 2, 'solid'));
  const atrLines = ATR_LEVELS.map((l) => seg([l.from, l.v], [l.to, l.v], BLUE, 2.5, 'solid'));
  const macdLines: any[] = MACD_LEVELS.map((l) => seg([l.from, l.v], [l.to, l.v], BLUE, l.dash ? 1.5 : 2.5, l.dash ? [14, 8] : 'solid'));
  macdLines.push([{ coord: [0, 0], lineStyle: { color: BLUE, width: 1.2, type: 'solid' } }, { coord: [SLOT_COUNT - 1, 0] }]);

  const lineS = (name: string, xi: number, data: any[], color: string, width: number, type: any = 'solid', z = 4) => ({
    name, type: 'line', xAxisIndex: xi, yAxisIndex: xi, data, showSymbol: false, symbol: 'none',
    lineStyle: { color, width, type }, z, silent: true, smooth: 0.2,
  });
  const helper = (xi: number, extra: any, z = 5) => ({
    type: 'line', xAxisIndex: xi, yAxisIndex: xi, data: [], silent: true, z, ...extra,
  });

  const series: any[] = [
    helper(0, {
      markArea: {
        silent: true,
        itemStyle: { color: 'rgba(140,190,240,0.75)' },
        data: [[{ coord: [PRICE_BOX.from, PRICE_BOX.top] }, { coord: [PRICE_BOX.to, PRICE_BOX.bottom] }]],
      },
    }, 1),
    {
      name: 'ACX', type: 'candlestick', xAxisIndex: 0, yAxisIndex: 0, data: candles, barWidth: 3, z: 3,
      itemStyle: { color: '#ffffff', color0: BLUE, borderColor: BLUE, borderColor0: BLUE, borderWidth: 1 },
    },
    lineS('MMS200', 0, sampled(MA200, MA200_START), RED, 2.5),
    lineS('MMS40', 0, sampled(MA40, MA40_START), GREEN, 2),
    helper(0, { markLine: { silent: true, symbol: ['none', 'none'], label: { show: false }, data: priceLines } }),
    helper(0, {
      markLine: {
        silent: true, symbol: ['arrow', 'arrow'], symbolSize: 8, label: { show: false },
        lineStyle: { color: PURPLE }, data: arrowLines,
      },
    }),
    lineS('ATR', 1, sampled(ATR_LINE, 0), RED, 2.5),
    lineS('ATRsig', 1, sampled(ATR_SIGNAL, 0), BLUE, 1.2, 'dotted'),
    helper(1, { markLine: { silent: true, symbol: ['none', 'none'], label: { show: false }, data: atrLines } }),
    helper(2, { markLine: { silent: true, symbol: ['none', 'none'], label: { show: false }, data: macdLines } }, 2),
    lineS('MACD', 2, sampled(MACD_LINE, 0), RED, 2.5),
    lineS('MACDsig', 2, sampled(MACD_SIGNAL, 0), BLUE, 1.2, 'dotted'),
    helper(3, {
      markArea: {
        silent: true,
        itemStyle: { color: '#00ff00', borderColor: '#9ec8ff', borderWidth: 1 },
        data: VOL_AREAS.map((a) => [{ coord: [a.from, a.top] }, { coord: [a.to, 190000] }]),
      },
    }, 1),
    {
      name: 'Vol', type: 'bar', xAxisIndex: 3, yAxisIndex: 3, data: VOLUME_K.map((v) => v * 1000),
      barWidth: 1.6, itemStyle: { color: BLUE }, z: 3, silent: true,
    },
    lineS('VolMA200', 3, sampled(VOL_MA200, 0, 1000000), RED, 2.5),
    lineS('VolMA20', 3, sampled(VOL_MA20, 0, 1000000), GREEN, 2),
  ];

  return {
    animation: false,
    backgroundColor: '#ffffff',
    grid: grids,
    xAxis: xAxes,
    yAxis: yAxes,
    series,
  };
}

function buildGraphics(chart: any) {
  const g: any[] = [];
  const W = 1730;
  g.push({ type: 'rect', z: 50, shape: { x: 0, y: 0, width: W, height: 15 }, style: { fill: '#d5d5d5' } });
  g.push({
    type: 'text', z: 60, x: 3, y: 8,
    style: {
      text: '{b|ACX.MC - ACERINOX -  1 d  Dif. %: }{s|-1,44}{b|  Dif.: }{s|-0,134}{b|  M: 9,250  m: 9,150  F: 28-11-2022  }{r|P : 8,354}',
      verticalAlign: 'middle',
      rich: {
        b: { fill: BLUE, fontSize: 10.5, fontFamily: FONT },
        s: { fill: '#f04848', fontSize: 10.5, fontFamily: FONT },
        r: { fill: RED, fontSize: 10.5, fontFamily: FONT },
      },
    },
  });
  const headers = [
    { y: 459, text: '{r|ATRPorcentaje_ACX.MC  Line 1: }{b|2,3483}{r|  P: 25,9103}' },
    { y: 568, text: '{r|MACD_ACX.MC  MACD: }{b|0,1554  MediaSIG: 0,2057  Band_MACD: 0,0000}{r|  P: 5,5424}' },
    { y: 677, text: '{b|Vol_ACX.MC  Vol: 123.319 }{r|P: 21.892.516}' },
  ];
  headers.forEach((h) => g.push({
    type: 'text', z: 60, x: 3, y: h.y,
    style: {
      text: h.text, verticalAlign: 'middle',
      rich: {
        b: { fill: BLUE, fontSize: 10.5, fontFamily: FONT },
        r: { fill: RED, fontSize: 10.5, fontFamily: FONT },
      },
    },
  }));
  // window buttons
  [8, 459, 568, 677].forEach((y) => {
    g.push({ type: 'line', z: 60, shape: { x1: 1693, y1: y + 4, x2: 1701, y2: y + 4 }, style: { stroke: '#333', lineWidth: 1 } });
    g.push({ type: 'rect', z: 60, shape: { x: 1705, y: y - 4, width: 9, height: 8 }, style: { fill: 'none', stroke: '#333', lineWidth: 1 } });
    g.push({ type: 'line', z: 60, shape: { x1: 1705, y1: y - 3, x2: 1714, y2: y - 3 }, style: { stroke: '#333', lineWidth: 1.5 } });
    g.push({ type: 'line', z: 60, shape: { x1: 1718, y1: y - 4, x2: 1726, y2: y + 4 }, style: { stroke: '#333', lineWidth: 1.2 } });
    g.push({ type: 'line', z: 60, shape: { x1: 1726, y1: y - 4, x2: 1718, y2: y + 4 }, style: { stroke: '#333', lineWidth: 1.2 } });
  });
  // panel separators
  [451, 560, 669].forEach((y) => g.push({ type: 'line', z: 60, shape: { x1: 0, y1: y, x2: W, y2: y }, style: { stroke: '#000', lineWidth: 1.5 } }));
  // axis frame tops
  [15, 467, 576, 684].forEach((y) => g.push({ type: 'line', z: 60, shape: { x1: 1614, y1: y, x2: W, y2: y }, style: { stroke: BLUE, lineWidth: 1.5 } }));
  g.push({ type: 'line', z: 60, shape: { x1: 0, y1: 779, x2: W, y2: 779 }, style: { stroke: BLUE, lineWidth: 1.5 } });
  // year ticks
  YEAR_IDX.forEach((i) => {
    const x = chart.convertToPixel({ xAxisIndex: 3, yAxisIndex: 3 }, [i, 1000000])[0];
    g.push({ type: 'line', z: 0, shape: { x1: x, y1: 770, x2: x, y2: 788 }, style: { stroke: BLUE, lineWidth: 1 } });
    g.push({
      type: 'text', z: 0, x: x + 2, y: 779,
      style: { text: DATES[i].slice(0, 4), fill: BLUE, fontSize: 11, fontWeight: 'bold', fontFamily: FONT, verticalAlign: 'bottom' },
    });
  });
  // circles
  CIRCLES.forEach((c) => {
    const p = chart.convertToPixel({ xAxisIndex: 0, yAxisIndex: 0 }, [c.i, c.p]);
    g.push({ type: 'ellipse', z: 40, shape: { cx: p[0], cy: p[1], rx: c.rx, ry: c.ry }, style: { fill: 'none', stroke: '#e88c6c', lineWidth: 1 } });
  });
  // texts
  TEXT_LABELS.forEach((t) => g.push({
    type: 'text', z: 45, x: t.x, y: t.y,
    style: {
      text: t.text, fill: t.color, fontSize: t.size, fontWeight: t.bold ? 'bold' : 'normal',
      fontFamily: FONT, verticalAlign: 'middle',
    },
  }));
  return g;
}

export default function App() {
  const ref = useRef<HTMLDivElement>(null);
  useEffect(() => {
    document.body.style.margin = '0';
    const chart = echarts.init(ref.current as HTMLDivElement, null, { renderer: 'svg' });
    chart.setOption(buildOption() as any);
    chart.setOption({ graphic: buildGraphics(chart) } as any);
    return () => chart.dispose();
  }, []);
  return <div ref={ref} style={{ width: 1730, height: 799 }} />;
}
